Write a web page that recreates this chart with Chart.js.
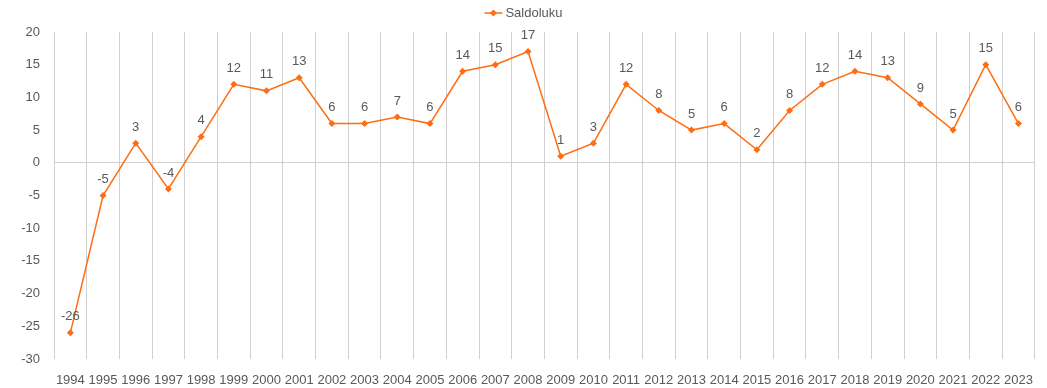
<!DOCTYPE html>
<html>
<head>
<meta charset="utf-8">
<script src="https://cdn.jsdelivr.net/npm/chart.js@4/dist/chart.umd.min.js"></script>
<style>
  html, body { margin: 0; padding: 0; background: #fff; }
  #wrap { width: 1047px; height: 388px; }
</style>
</head>
<body>
<div id="wrap"><canvas id="saldoChart"></canvas></div>
<script>
var years = ['1994','1995','1996','1997','1998','1999','2000','2001','2002','2003',
             '2004','2005','2006','2007','2008','2009','2010','2011','2012','2013',
             '2014','2015','2016','2017','2018','2019','2020','2021','2022','2023'];
var saldoluku = [-26, -5, 3, -4, 4, 12, 11, 13, 6, 6,
                 7, 6, 14, 15, 17, 1, 3, 12, 8, 5,
                 6, 2, 8, 12, 14, 13, 9, 5, 15, 6];
var seriesName = 'Saldoluku';

var orange = '#FF6D12';
var textGrey = '#595959';
var gridGrey = '#D0D0D0';
var fontFamily = '"Liberation Sans", Arial, sans-serif';

// value labels above each point
var pointLabels = {
    id: 'pointLabels',
    afterDatasetsDraw: function (chart) {
        var ctx = chart.ctx;
        var meta = chart.getDatasetMeta(0);
        ctx.save();
        ctx.font = '13px ' + fontFamily;
        ctx.fillStyle = textGrey;
        ctx.textAlign = 'center';
        ctx.textBaseline = 'middle';
        meta.data.forEach(function (pt, i) {
            ctx.fillText(String(chart.data.datasets[0].data[i]), pt.x, pt.y - 16);
        });
        ctx.restore();
    }
};

// legend: short line with a diamond, then the series name
var lineLegend = {
    id: 'lineLegend',
    afterDraw: function (chart) {
        var ctx = chart.ctx;
        ctx.save();
        ctx.font = '13px ' + fontFamily;
        var tw = ctx.measureText(seriesName).width;
        var total = 18 + 3 + tw;
        var x0 = (chart.width - total) / 2;
        var y = 13;
        ctx.strokeStyle = orange;
        ctx.lineWidth = 1.5;
        ctx.beginPath();
        ctx.moveTo(x0, y);
        ctx.lineTo(x0 + 18, y);
        ctx.stroke();
        ctx.fillStyle = orange;
        ctx.beginPath();
        ctx.moveTo(x0 + 9, y - 3.5);
        ctx.lineTo(x0 + 12.5, y);
        ctx.lineTo(x0 + 9, y + 3.5);
        ctx.lineTo(x0 + 5.5, y);
        ctx.closePath();
        ctx.fill();
        ctx.fillStyle = textGrey;
        ctx.textAlign = 'left';
        ctx.textBaseline = 'middle';
        ctx.fillText(seriesName, x0 + 21, y);
        ctx.restore();
    }
};

var ctx = document.getElementById('saldoChart').getContext('2d');
var saldoChart = new Chart(ctx, {
    type: 'line',
    data: {
        labels: years,
        datasets: [{
            label: seriesName,
            data: saldoluku,
            borderColor: orange,
            backgroundColor: orange,
            borderWidth: 1.5,
            pointStyle: 'rectRot',
            pointRadius: 3.5,
            pointBorderWidth: 0,
            pointBackgroundColor: orange,
            tension: 0
        }]
    },
    options: {
        responsive: true,
        maintainAspectRatio: false,
        animation: false,
        layout: { padding: { top: 32, right: 7, left: 0, bottom: 0 } },
        plugins: {
            legend: { display: false },
            tooltip: { enabled: false }
        },
        scales: {
            x: {
                offset: true,
                grid: {
                    offset: true,
                    color: gridGrey,
                    lineWidth: 1,
                    drawTicks: false
                },
                border: { display: false },
                ticks: {
                    color: textGrey,
                    font: { family: fontFamily, size: 13 },
                    padding: 14,
                    maxRotation: 0,
                    autoSkip: false
                },
                afterFit: function (scale) { scale.height = 29; }
            },
            y: {
                min: -30,
                max: 20,
                grid: {
                    color: function (c) { return c.tick && c.tick.value === 0 ? gridGrey : 'rgba(0,0,0,0)'; },
                    drawTicks: false
                },
                border: { display: false },
                ticks: {
                    stepSize: 5,
                    color: textGrey,
                    font: { family: fontFamily, size: 13 },
                    padding: 14
                },
                afterFit: function (scale) { scale.width = 54; }
            }
        }
    },
    plugins: [pointLabels, lineLegend]
});
</script>
</body>
</html>
